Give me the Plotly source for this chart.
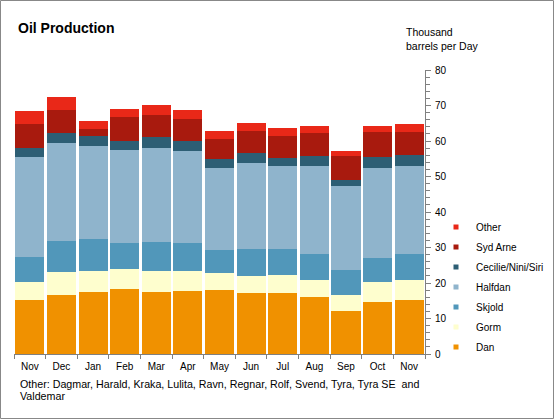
import plotly.graph_objects as go

months = ["Nov", "Dec", "Jan", "Feb", "Mar", "Apr", "May", "Jun", "Jul", "Aug", "Sep", "Oct", "Nov "]
month_labels = ["Nov", "Dec", "Jan", "Feb", "Mar", "Apr", "May", "Jun", "Jul", "Aug", "Sep", "Oct", "Nov"]

dan      = [15.2, 16.6, 17.5, 18.3, 17.5, 17.8, 18.0, 17.2, 17.2, 16.1, 12.1, 14.7, 15.2]
gorm     = [5.1, 6.5, 5.9, 5.7, 5.9, 5.6, 4.8, 4.8, 5.1, 4.8, 4.5, 5.6, 5.7]
skjold   = [7.1, 8.8, 9.0, 7.3, 8.2, 7.9, 6.5, 7.6, 7.3, 7.3, 7.1, 6.8, 7.3]
halfdan  = [28.2, 27.6, 26.3, 26.2, 26.5, 25.9, 23.2, 24.3, 23.4, 24.8, 23.7, 25.4, 24.8]
cecilie  = [2.5, 2.8, 2.8, 2.6, 3.1, 2.9, 2.5, 2.8, 2.3, 2.8, 1.7, 3.1, 3.1]
syd_arne = [6.8, 6.5, 2.0, 6.7, 6.2, 6.1, 5.6, 6.2, 6.2, 6.5, 6.7, 7.0, 6.5]
other    = [3.6, 3.7, 2.2, 2.3, 2.8, 2.6, 2.3, 2.2, 2.2, 2.0, 1.4, 1.7, 2.3]

series_names = ["Dan", "Gorm", "Skjold", "Halfdan", "Cecilie/Nini/Siri", "Syd Arne", "Other"]
series_values = [dan, gorm, skjold, halfdan, cecilie, syd_arne, other]
series_colors = ["#F09100", "#FEFECE", "#5197BA", "#8FB4CC", "#2D5E74", "#A81A0E", "#E92818"]

y_ticks = [0, 10, 20, 30, 40, 50, 60, 70, 80]

title_text = "Oil Production"
unit_text = "Thousand<br>barrels per Day"
note_line1 = "Other: Dagmar, Harald, Kraka, Lulita, Ravn, Regnar, Rolf, Svend, Tyra, Tyra SE  and"
note_line2 = "Valdemar"

W, H = 554, 419
ML, MR, MT, MB = 14, 129, 70, 65
PW, PH = W - ML - MR, H - MT - MB

def px_x(px):
    return (px - ML) / PW

def px_y(py):
    return (H - MB - py) / PH

FONT = "Arial, Liberation Sans, sans-serif"

fig = go.Figure()
for name, vals, col in zip(series_names, series_values, series_colors):
    fig.add_trace(go.Bar(x=months, y=vals, name=name, marker=dict(color=col, line=dict(width=0)),
                         showlegend=False))
# legend entries, top to bottom: Other ... Dan
for name, col in reversed(list(zip(series_names, series_colors))):
    fig.add_trace(go.Scatter(x=[None], y=[None], mode="markers", name=name, legendgroup=name,
                             marker=dict(symbol="square", size=5, color=col, line=dict(width=0))))

fig.update_layout(
    width=W, height=H, autosize=False,
    margin=dict(l=ML, r=MR, t=MT, b=MB, autoexpand=False),
    paper_bgcolor="white", plot_bgcolor="white",
    barmode="stack", bargap=0.08,
    font=dict(family=FONT, size=10, color="black"),
    legend=dict(traceorder="grouped", tracegroupgap=1,
                xref="container", yref="container",
                x=436 / W, xanchor="left", y=1 - 212.5 / H, yanchor="top",
                font=dict(size=10, family=FONT), bgcolor="rgba(0,0,0,0)",
                itemclick=False),
    xaxis=dict(type="category", tickmode="array", tickvals=months, ticktext=month_labels,
               tickson="boundaries", ticks="outside", ticklen=4, tickcolor="#808080",
               ticklabelstandoff=3,
               showline=True, linecolor="#808080", linewidth=1, showgrid=False,
               tickfont=dict(size=10), fixedrange=True, automargin=False),
    yaxis=dict(side="right", range=[0, 80], tickvals=y_ticks, ticks="outside", ticklen=5,
               tickcolor="#808080", showline=True, linecolor="#808080", linewidth=1,
               ticklabelstandoff=2,
               showgrid=False, zeroline=False, tickfont=dict(size=10),
               minor=dict(dtick=2, ticks="outside", ticklen=4, tickcolor="#808080", showgrid=False),
               fixedrange=True, automargin=False),
    shapes=[dict(type="rect", xref="paper", yref="paper",
                 x0=px_x(0.5), x1=px_x(W - 0.5), y0=px_y(H - 0.5), y1=px_y(0.5),
                 line=dict(color="#888888", width=1), fillcolor="rgba(0,0,0,0)", layer="above")],
    annotations=[
        dict(text="<b>" + title_text + "</b>", xref="paper", yref="paper", x=px_x(16), y=px_y(28),
             xanchor="left", yanchor="middle", align="left", showarrow=False,
             font=dict(size=14, family=FONT)),
        dict(text=unit_text, xref="paper", yref="paper", x=px_x(404), y=px_y(24),
             xanchor="left", yanchor="top", align="left", showarrow=False,
             font=dict(size=10.5, family=FONT)),
        dict(text=note_line1, xref="paper", yref="paper", x=px_x(18), y=px_y(384),
             xanchor="left", yanchor="middle", align="left", showarrow=False,
             font=dict(size=10.7, family=FONT)),
        dict(text=note_line2, xref="paper", yref="paper", x=px_x(18), y=px_y(396),
             xanchor="left", yanchor="middle", align="left", showarrow=False,
             font=dict(size=10.7, family=FONT)),
    ],
)

fig.write_html("out.html", config={"displayModeBar": False},
               post_script="document.body.style.margin='0';")
